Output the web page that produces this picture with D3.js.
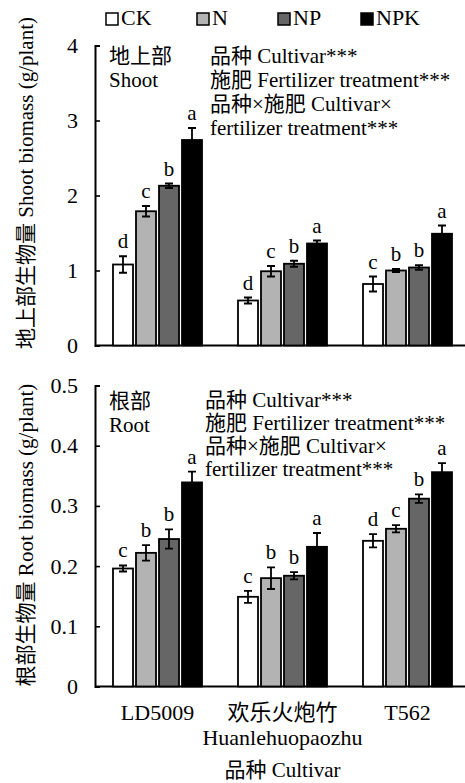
<!DOCTYPE html>
<html>
<head>
<meta charset="utf-8">
<script src="https://cdn.jsdelivr.net/npm/d3@7"></script>
<style>
  body { margin: 0; background: #fff; }
  svg text { font-family: "Liberation Serif", "Times New Roman", "Noto Sans CJK SC", serif; fill: #000; }
</style>
</head>
<body>
<svg id="chart" width="465" height="783"></svg>
<script>
// data
const cultivars = ["LD5009", "欢乐火炮竹", "T562"];
const cultivarSub = ["", "Huanlehuopaozhu", ""];
const treatments = ["CK", "N", "NP", "NPK"];
const fills = ["#ffffff", "#b3b3b3", "#666666", "#000000"];

const shootMean = [[1.08, 1.79, 2.13, 2.74], [0.60, 0.99, 1.09, 1.36], [0.82, 1.00, 1.04, 1.49]];
const shootErr = [[0.11, 0.07, 0.03, 0.16], [0.04, 0.07, 0.04, 0.04], [0.10, 0.02, 0.03, 0.11]];
const shootLetters = [["d", "c", "b", "a"], ["d", "c", "b", "a"], ["c", "b", "b", "a"]];
const shootTicks = [0, 1, 2, 3, 4];

const rootMean = [[0.196, 0.222, 0.245, 0.339], [0.149, 0.180, 0.184, 0.232], [0.242, 0.262, 0.312, 0.356]];
const rootErr = [[0.005, 0.013, 0.016, 0.018], [0.010, 0.018, 0.006, 0.023], [0.011, 0.006, 0.007, 0.015]];
const rootLetters = [["c", "b", "b", "a"], ["c", "b", "b", "a"], ["d", "c", "b", "a"]];
const rootTicks = [0, 0.1, 0.2, 0.3, 0.4, 0.5];

const statLines = ["品种 Cultivar***", "施肥 Fertilizer treatment***", "品种×施肥 Cultivar×", "fertilizer treatment***"];

const W = 465, FS = 21, FL = 22;
const svg = d3.select("#chart");

const x0 = d3.scaleBand().domain(cultivars).range([95, 470]).paddingInner(0.288).paddingOuter(0.144);
const x1 = d3.scaleBand().domain(treatments).range([0, x0.bandwidth()]).paddingInner(0.13);

// legend
const legendX = [106, 197, 278, 361];
const legend = svg.append("g").selectAll("g").data(treatments).enter().append("g")
  .attr("transform", (d, i) => `translate(${legendX[i]},13)`);
legend.append("rect").attr("width", 12).attr("height", 12)
  .attr("fill", (d, i) => fills[i]).attr("stroke", "#000").attr("stroke-width", 1.5);
legend.append("text").attr("x", 15).attr("y", 12).attr("font-size", FL).text(d => d);

function panel(opts) {
  const y = d3.scaleLinear().domain(opts.domain).range(opts.range);
  const g = svg.append("g");

  const axis = d3.axisLeft(y).tickValues(opts.ticks)
    .tickSizeInner(-5).tickSizeOuter(-5).tickPadding(17)
    .tickFormat(d => d === 0 ? "0" : opts.fmt(d));
  const ax = g.append("g").attr("transform", `translate(${x0.range()[0]},0)`).call(axis);
  ax.select(".domain").attr("stroke-width", 2);
  ax.selectAll(".tick line").attr("stroke-width", 1.6);
  ax.selectAll(".tick text").attr("font-size", FL).attr("font-family", null);

  // baseline
  g.append("line").attr("x1", x0.range()[0]).attr("x2", W)
    .attr("y1", y(0)).attr("y2", y(0)).attr("stroke", "#000").attr("stroke-width", 2);

  const rows = [];
  cultivars.forEach((c, ci) => treatments.forEach((t, ti) => rows.push({
    c, t, ti, v: opts.mean[ci][ti], e: opts.err[ci][ti], l: opts.letters[ci][ti]
  })));

  const bars = g.append("g").selectAll("g").data(rows).enter().append("g")
    .attr("transform", d => `translate(${x0(d.c) + x1(d.t)},0)`);
  const bw = x1.bandwidth();
  bars.append("rect")
    .attr("y", d => y(d.v)).attr("width", bw).attr("height", d => y(0) - y(d.v))
    .attr("fill", d => fills[d.ti]).attr("stroke", "#000").attr("stroke-width", 1.8);

  const cx = bw / 2;
  bars.append("path")
    .attr("d", d => `M${cx},${y(d.v + d.e)}V${y(d.v - d.e)}M${cx - 4},${y(d.v + d.e)}H${cx + 4}M${cx - 4},${y(d.v - d.e)}H${cx + 4}`)
    .attr("stroke", "#000").attr("stroke-width", 1.8).attr("fill", "none");
  bars.append("text").attr("x", cx).attr("y", d => y(d.v + d.e) - 8)
    .attr("text-anchor", "middle").attr("font-size", FS).text(d => d.l);

  // y label
  g.append("text")
    .attr("transform", `translate(26,${opts.labelY}) rotate(-90)`)
    .attr("text-anchor", "middle").attr("dominant-baseline", "central")
    .attr("font-size", FS).text(opts.label);

  // part names and significance text
  g.append("text").attr("x", 109).attr("y", opts.nameY[0]).attr("font-size", FS).text(opts.name[0]);
  g.append("text").attr("x", 109).attr("y", opts.nameY[1]).attr("font-size", FS).text(opts.name[1]);
  g.append("g").selectAll("text").data(statLines).enter().append("text")
    .attr("x", opts.statX).attr("y", (d, i) => opts.statY + i * opts.statStep)
    .attr("font-size", FS).text(d => d);
  return y;
}

panel({
  domain: [0, 4], range: [345.5, 45.5], ticks: shootTicks, fmt: d3.format("d"),
  mean: shootMean, err: shootErr, letters: shootLetters,
  label: "地上部生物量 Shoot biomass (g/plant)", labelY: 183,
  name: ["地上部", "Shoot"], nameY: [63, 87],
  statX: 210, statY: 63, statStep: 24
});

panel({
  domain: [0, 0.5], range: [686.5, 385.5], ticks: rootTicks, fmt: d3.format(".1f"),
  mean: rootMean, err: rootErr, letters: rootLetters,
  label: "根部生物量 Root biomass (g/plant)", labelY: 535,
  name: ["根部", "Root"], nameY: [408, 432],
  statX: 205, statY: 407, statStep: 23
});

// x category labels
const xl = svg.append("g").selectAll("g").data(cultivars).enter().append("g")
  .attr("transform", d => `translate(${x0(d) + x0.bandwidth() / 2},0)`);
xl.append("text").attr("y", 720).attr("text-anchor", "middle").attr("font-size", FL).text(d => d);
xl.append("text").attr("y", 745).attr("text-anchor", "middle").attr("font-size", FL)
  .text((d, i) => cultivarSub[i]);

svg.append("text").attr("x", x0(cultivars[1]) + x0.bandwidth() / 2).attr("y", 777)
  .attr("text-anchor", "middle").attr("font-size", FS).text("品种 Cultivar");
</script>
</body>
</html>
